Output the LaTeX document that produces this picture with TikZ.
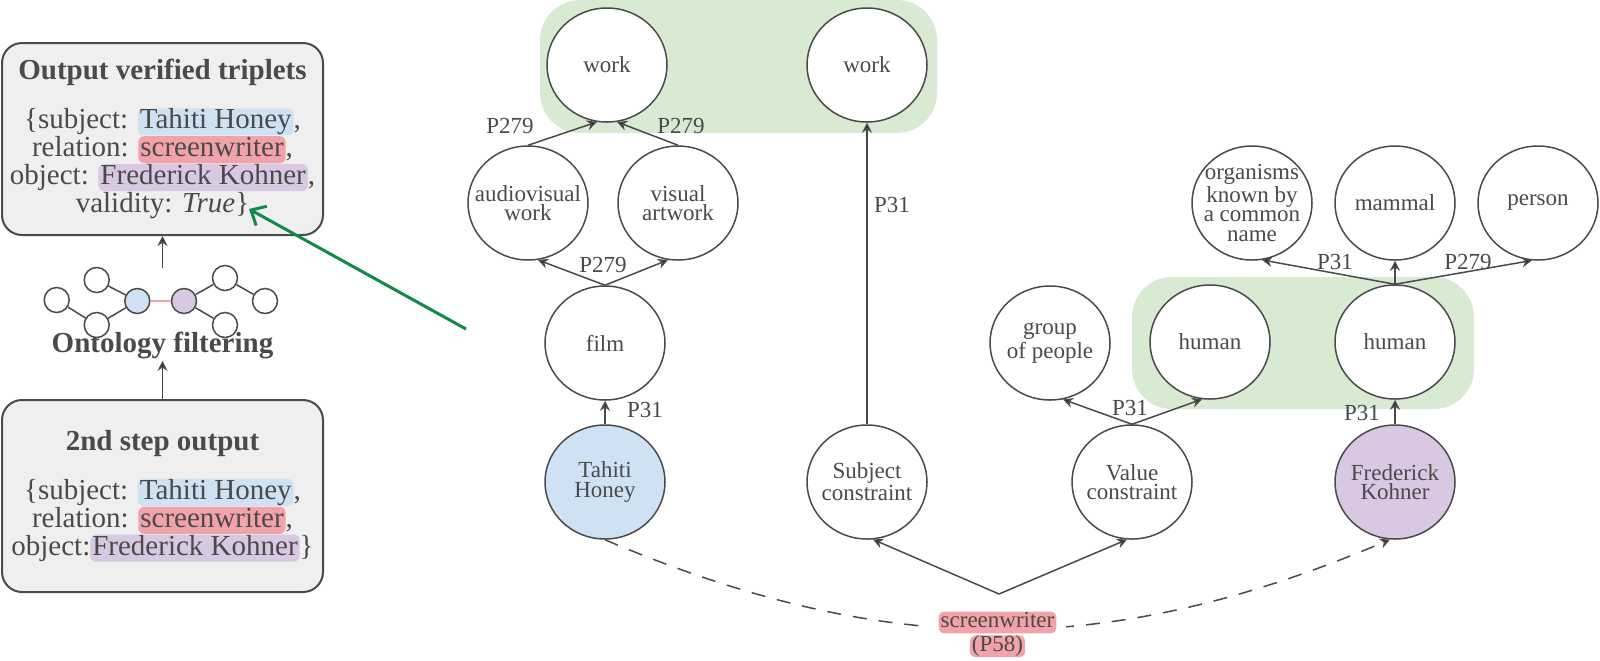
\documentclass[tikz,border=0pt]{standalone}
\usepackage{fontspec}
\setmainfont{Liberation Serif}
\usetikzlibrary{arrows.meta,shapes.geometric}

\definecolor{inkgray}{HTML}{4A4A4A}
\definecolor{boxfill}{HTML}{EFEFEF}
\definecolor{subjblue}{HTML}{CFE2F3}
\definecolor{objpurple}{HTML}{D9C8E1}
\definecolor{relpink}{HTML}{F2A3A9}
\definecolor{groupgreen}{HTML}{D9EAD3}
\definecolor{linkgreen}{HTML}{0F8A4B}

% highlighted words
\newcommand{\hlt}[2]{\tikz[baseline=(hl.base)]\node[rectangle,draw=none,minimum width=0pt,minimum height=0pt,
  fill=#1,rounded corners=3pt,inner xsep=1pt,inner ysep=0.4pt,text height=0.68em,text depth=0.2em,text=inkgray](hl){#2};}

\tikzset{
  concept/.style={ellipse, draw=inkgray, line width=0.75pt, fill=white, minimum width=60pt, minimum height=57pt,
    inner xsep=-6pt, inner ysep=0pt, align=center, text=inkgray, font=\fontsize{11.5pt}{9.8pt}\selectfont},
  plabel/.style={text=inkgray, inner sep=0pt, font=\fontsize{11.5pt}{11pt}\selectfont},
  link/.style={draw=inkgray, line width=0.75pt, -{Stealth[length=5pt,width=5pt]}},
  stepbox/.style={draw=inkgray, line width=1pt, fill=boxfill, rounded corners=10pt, minimum width=160.5pt,
    minimum height=96pt, align=center, text=inkgray, font=\fontsize{14.5pt}{13.9pt}\selectfont},
  tiny/.style={circle, draw=inkgray, line width=0.75pt, fill=white, minimum size=12.5pt, inner sep=0pt},
  group/.style={fill=groupgreen, rounded corners=20pt},
  greenlink/.style={draw=linkgreen, line width=1.5pt, -{Straight Barb[length=6pt,width=11pt]}},
}

\begin{document}
\begin{tikzpicture}[x=0.5pt,y=0.5pt,yscale=-1]
\useasboundingbox (0,0) rectangle (1600,660);

% green groups
\fill[group] (540,0) rectangle (937,133);
\fill[group] (1132,277) rectangle (1474,409);

% left column
\node[stepbox] (verified) at (162.5,139) {{\bfseries Output verified triplets}\\[10.6pt]
  \{subject: \hlt{subjblue}{Tahiti Honey},\\
  relation: \hlt{relpink}{screenwriter},\\
  object: \hlt{objpurple}{Frederick Kohner},\\
  validity: \textit{True}\}};
\node[stepbox] (stepout) at (162.5,496) {{\bfseries 2nd step output}\\[10.6pt]
  \{subject: \hlt{subjblue}{Tahiti Honey},\\
  relation: \hlt{relpink}{screenwriter},\\
  object:\hlt{objpurple}{Frederick Kohner}\}};
\node[text=inkgray, inner sep=1pt, font=\fontsize{14.5pt}{14.5pt}\selectfont\bfseries] (filtering) at (162.5,345) {Ontology filtering};

% small ontology icon
\node[tiny] (ic1) at (56.7,300) {};
\node[tiny] (ic2) at (96.7,280) {};
\node[tiny] (ic3) at (96.7,325) {};
\node[tiny, fill=subjblue] (icsubj) at (137.3,301) {};
\node[tiny, fill=objpurple] (icobj) at (184,301) {};
\node[tiny] (ic4) at (225,278) {};
\node[tiny] (ic5) at (225,325) {};
\node[tiny] (ic6) at (265,301) {};
\draw[inkgray, line width=0.75pt] (ic1) -- (ic3) (ic3) -- (icsubj) (ic2) -- (icsubj)
  (icobj) -- (ic4) (icobj) -- (ic5) (ic4) -- (ic6);
\draw[relpink, line width=1.2pt] (icsubj) -- (icobj);

\coordinate (icontop) at (162.5,268);
\draw[link] (icontop) -- (verified);
\draw[link] (stepout) -- (filtering);

\coordinate (greentail) at (466,329);
\coordinate (greenhead) at (249,209);
\draw[greenlink] (greentail) -- (greenhead);

% ontology graph
\node[concept] (work1) at (607,65) {work};
\node[concept] (work2) at (867,65) {work};
\node[concept] (avwork) at (528,203) {audiovisual\\work};
\node[concept] (vart) at (678,203) {visual\\artwork};
\node[concept] (film) at (605,343) {film};
\node[concept, fill=subjblue] (tahiti) at (605,482) {Tahiti\\Honey};
\node[concept] (subjc) at (867,482) {Subject\\constraint};
\node[concept] (valc) at (1132,482) {Value\\constraint};
\node[concept, fill=objpurple] (fred) at (1395,482) {Frederick\\Kohner};
\node[concept] (people) at (1050,343) {group\\of people};
\node[concept] (human1) at (1210,342) {human};
\node[concept] (human2) at (1395,342) {human};
\node[concept] (organisms) at (1252,203) {organisms\\known by\\a common\\name};
\node[concept] (mammal) at (1395,203) {mammal};
\node[concept] (person) at (1538,203) {person};

\draw[link] (avwork.north) -- (work1.260);
\draw[link] (vart.north) -- (work1.280);
\draw[link] (film.north) -- (avwork.280);
\draw[link] (film.north) -- (vart.260);
\draw[link] (tahiti) -- (film);
\draw[link] (subjc) -- (work2);
\draw[link] (valc.north) -- (people.283);
\draw[link] (valc.north) -- (human1.262);
\draw[link] (fred) -- (human2);
\draw[link] (human2.north) -- (organisms.280);
\draw[link] (human2) -- (mammal);
\draw[link] (human2.north) -- (person.264);

\coordinate (fork) at (999,594);
\draw[link] (fork) -- (subjc.276);
\draw[link] (fork) -- (valc.265);

\draw[link, dash pattern=on 7pt off 6pt] (tahiti.south) to[bend left=23]
  node[fill=white, inner xsep=5pt, inner ysep=0pt, yshift=-2.5pt, align=center, text=inkgray,
    font=\fontsize{11.5pt}{10.6pt}\selectfont] (relname) {\hlt{relpink}{screenwriter}\\\hlt{relpink}{(P58)}}
  (fred.265);

% edge labels
\node[plabel] (lblw1) at (510,126) {P279};
\node[plabel] (lblw2) at (681,126) {P279};
\node[plabel] (lblfilm) at (603,265) {P279};
\node[plabel] (lbltahiti) at (645,410) {P31};
\node[plabel] (lblsubj) at (892,205) {P31};
\node[plabel] (lblval) at (1130,408) {P31};
\node[plabel] (lblfred) at (1362,413) {P31};
\node[plabel] (lblorg) at (1335,262) {P31};
\node[plabel] (lblperson) at (1468,262) {P279};

\end{tikzpicture}
\end{document}
